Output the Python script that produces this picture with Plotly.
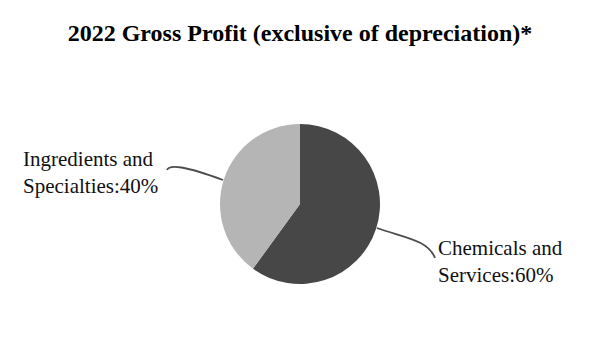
import plotly.graph_objects as go

W, H = 600, 350

segments = ["Chemicals and Services", "Ingredients and Specialties"]
shares = [60, 40]
label_text = ["Chemicals and<br>Services:60%", "Ingredients and<br>Specialties:40%"]
colors = ["#474747", "#b5b5b5"]
title_text = "<b>2022 Gross Profit (exclusive of depreciation)*</b>"


def px(x, y):
    return x / W, 1 - y / H


fig = go.Figure()
cy = 1 - 204 / H
r = 80 / H
fig.add_trace(go.Pie(
    labels=segments, values=shares, sort=False, direction="clockwise",
    rotation=0, textinfo="none", hoverinfo="label+percent",
    marker=dict(colors=colors, line=dict(width=0)),
    domain=dict(x=[0, 1], y=[cy - r, cy + r]),
    showlegend=False,
))


def path(pts):
    (x0, y0), (x1, y1), (x2, y2), (x3, y3) = [px(*p) for p in pts]
    return f"M {x0},{y0} C {x1},{y1} {x2},{y2} {x3},{y3}"


shapes = [
    dict(type="path", xref="paper", yref="paper",
         path=path([(167, 170), (169, 164), (185, 166), (223, 180)]),
         line=dict(color="#4d4d4d", width=1.8)),
    dict(type="path", xref="paper", yref="paper",
         path=path([(377, 228), (405, 238), (428, 240), (435, 258)]),
         line=dict(color="#4d4d4d", width=1.8)),
]

font = dict(family="Liberation Serif, Times New Roman, serif", size=21, color="#111111")
ax, ay = px(436, 261)
bx, by = px(21, 173)
annotations = [
    dict(text=label_text[0], x=ax, y=ay, xref="paper", yref="paper",
         xanchor="left", yanchor="middle", align="left", showarrow=False, font=font),
    dict(text=label_text[1], x=bx, y=by, xref="paper", yref="paper",
         xanchor="left", yanchor="middle", align="left", showarrow=False, font=font),
]

fig.update_layout(
    width=W, height=H, margin=dict(l=0, r=0, t=0, b=0),
    paper_bgcolor="white", plot_bgcolor="white",
    title=dict(text=title_text, x=0.5, xanchor="center", y=1 - 33 / H, yanchor="middle",
               font=dict(family="Liberation Serif, Times New Roman, serif", size=24, color="#000000")),
    shapes=shapes, annotations=annotations,
)

fig.write_html("out.html")
